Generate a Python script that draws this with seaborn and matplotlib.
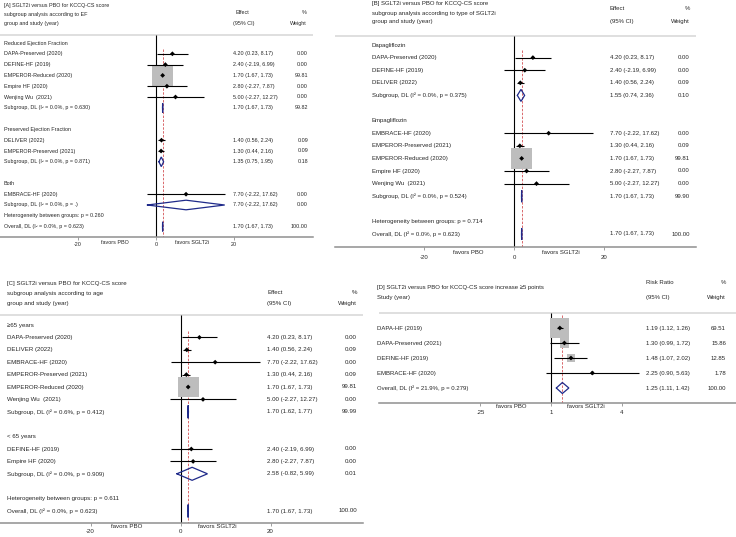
import numpy as np
import pandas as pd
import matplotlib
matplotlib.use("Agg")
import matplotlib.pyplot as plt
import seaborn as sns

nan = np.nan
W, H = 736, 537

# ========================
# [A] subgroups by EF
# ========================
a_title = ["[A] SGLT2i versus PBO for KCCQ-CS score",
           "subgroup analysis according to EF",
           "group and study (year)"]
a_labels = ["Reduced Ejection Fraction",
            "DAPA-Preserved (2020)", "DEFINE-HF (2019)", "EMPEROR-Reduced (2020)",
            "Empire HF (2020)", "Wenjing Wu  (2021)",
            "Subgroup, DL (I² = 0.0%, p = 0.630)",
            "",
            "Preserved Ejection Fraction",
            "DELIVER (2022)", "EMPEROR-Preserved (2021)",
            "Subgroup, DL (I² = 0.0%, p = 0.871)",
            "",
            "Both",
            "EMBRACE-HF (2020)",
            "Subgroup, DL (I² = 0.0%, p = .)",
            "Heterogeneity between groups: p = 0.260",
            "Overall, DL (I² = 0.0%, p = 0.623)"]
a_kind = ["h", "s", "s", "s", "s", "s", "p", "b", "h", "s", "s", "p", "b", "h", "s", "p", "h", "p"]
a_est = [nan, 4.20, 2.40, 1.70, 2.80, 5.00, 1.70, nan, nan, 1.40, 1.30, 1.35, nan, nan, 7.70, 7.70, nan, 1.70]
a_lo = [nan, 0.23, -2.19, 1.67, -2.27, -2.27, 1.67, nan, nan, 0.56, 0.44, 0.75, nan, nan, -2.22, -2.22, nan, 1.67]
a_hi = [nan, 8.17, 6.99, 1.73, 7.87, 12.27, 1.73, nan, nan, 2.24, 2.16, 1.95, nan, nan, 17.62, 17.62, nan, 1.73]
a_wt = [nan, 0.00, 0.00, 99.81, 0.00, 0.00, 99.82, nan, nan, 0.09, 0.09, 0.18, nan, nan, 0.00, 0.00, nan, 100.00]

# ========================
# [B] subgroups by SGLT2i type
# ========================
b_title = ["[B] SGLT2i versus PBO for KCCQ-CS score",
           "subgroup analysis according to type of SGLT2i",
           "group and study (year)"]
b_labels = ["Dapagliflozin",
            "DAPA-Preserved (2020)", "DEFINE-HF (2019)", "DELIVER (2022)",
            "Subgroup, DL (I² = 0.0%, p = 0.375)",
            "",
            "Empagliflozin",
            "EMBRACE-HF (2020)", "EMPEROR-Preserved (2021)", "EMPEROR-Reduced (2020)",
            "Empire HF (2020)", "Wenjing Wu  (2021)",
            "Subgroup, DL (I² = 0.0%, p = 0.524)",
            "",
            "Heterogeneity between groups: p = 0.714",
            "Overall, DL (I² = 0.0%, p = 0.623)"]
b_kind = ["h", "s", "s", "s", "p", "b", "h", "s", "s", "s", "s", "s", "p", "b", "h", "p"]
b_est = [nan, 4.20, 2.40, 1.40, 1.55, nan, nan, 7.70, 1.30, 1.70, 2.80, 5.00, 1.70, nan, nan, 1.70]
b_lo = [nan, 0.23, -2.19, 0.56, 0.74, nan, nan, -2.22, 0.44, 1.67, -2.27, -2.27, 1.67, nan, nan, 1.67]
b_hi = [nan, 8.17, 6.99, 2.24, 2.36, nan, nan, 17.62, 2.16, 1.73, 7.87, 12.27, 1.73, nan, nan, 1.73]
b_wt = [nan, 0.00, 0.00, 0.09, 0.10, nan, nan, 0.00, 0.09, 99.81, 0.00, 0.00, 99.90, nan, nan, 100.00]

# ========================
# [C] subgroups by age
# ========================
c_title = ["[C] SGLT2i versus PBO for KCCQ-CS score",
           "subgroup analysis according to age",
           "group and study (year)"]
c_labels = ["≥65 years",
            "DAPA-Preserved (2020)", "DELIVER (2022)", "EMBRACE-HF (2020)",
            "EMPEROR-Preserved (2021)", "EMPEROR-Reduced (2020)", "Wenjing Wu  (2021)",
            "Subgroup, DL (I² = 0.6%, p = 0.412)",
            "",
            "< 65 years",
            "DEFINE-HF (2019)", "Empire HF (2020)",
            "Subgroup, DL (I² = 0.0%, p = 0.909)",
            "",
            "Heterogeneity between groups: p = 0.611",
            "Overall, DL (I² = 0.0%, p = 0.623)"]
c_kind = ["h", "s", "s", "s", "s", "s", "s", "p", "b", "h", "s", "s", "p", "b", "h", "p"]
c_est = [nan, 4.20, 1.40, 7.70, 1.30, 1.70, 5.00, 1.70, nan, nan, 2.40, 2.80, 2.58, nan, nan, 1.70]
c_lo = [nan, 0.23, 0.56, -2.22, 0.44, 1.67, -2.27, 1.62, nan, nan, -2.19, -2.27, -0.82, nan, nan, 1.67]
c_hi = [nan, 8.17, 2.24, 17.62, 2.16, 1.73, 12.27, 1.77, nan, nan, 6.99, 7.87, 5.99, nan, nan, 1.73]
c_wt = [nan, 0.00, 0.09, 0.00, 0.09, 99.81, 0.00, 99.99, nan, nan, 0.00, 0.00, 0.01, nan, nan, 100.00]

# ========================
# [D] KCCQ-CS increase >=5 points (risk ratio)
# ========================
d_title = ["[D] SGLT2i versus PBO for KCCQ-CS score increase ≥5 points",
           "Study (year)"]
d_labels = ["DAPA-HF (2019)", "DAPA-Preserved (2021)", "DEFINE-HF (2019)",
            "EMBRACE-HF (2020)", "Overall, DL (I² = 21.9%, p = 0.279)"]
d_kind = ["s", "s", "s", "s", "p"]
d_est = [1.19, 1.30, 1.48, 2.25, 1.25]
d_lo = [1.12, 0.99, 1.07, 0.90, 1.11]
d_hi = [1.26, 1.72, 2.02, 5.63, 1.42]
d_wt = [69.51, 15.86, 12.85, 1.78, 100.00]

lin_ticks = [-20, 0, 20]
lin_ticklabels = ["-20", "0", "20"]
log_ticks = [0.25, 1, 4]
log_ticklabels = [".25", "1", "4"]

# ========================
# styling
# ========================
sns.set_theme(style="white")
plt.rcParams["font.family"] = ["Liberation Sans", "DejaVu Sans"]

TXT = "#262626"
NAVY = "#1f2a8a"
BOX = "#bdbdbd"

fig = plt.figure(figsize=(W / 100, H / 100), dpi=100)


def ftext(px, py, s, fs, ha="left"):
    fig.text(px / W, 1 - py / H, s, fontsize=fs, ha=ha, va="center", color=TXT)


def draw_panel(rect, x0, scale, y0, row_h, sep_y, labels, kind, est, lo, hi, wt,
               ticks, ticklabels, fs, cols, box100, dia_h, red_start, tick_pad,
               ref=0.0, log=False):
    left, top, right, bottom = rect
    ax = fig.add_axes([left / W, 1 - bottom / H, (right - left) / W, (bottom - top) / H])
    if log:
        ax.set_xscale("log", base=2)
        ax.set_xlim(2 ** ((left - x0) / scale), 2 ** ((right - x0) / scale))
        ax.xaxis.set_minor_locator(matplotlib.ticker.NullLocator())
    else:
        ax.set_xlim((left - x0) / scale, (right - x0) / scale)

    def to_row(py):
        return (py - y0) / row_h

    bot_row = to_row(bottom)
    ax.set_ylim(bot_row, to_row(top))

    df = pd.DataFrame({"row": np.arange(len(labels)), "label": labels, "kind": kind,
                       "est": est, "lo": lo, "hi": hi, "wt": wt})
    st = df[df.kind == "s"]
    pl = df[df.kind == "p"]

    # separator, reference line, overall line
    ax.axhline(to_row(sep_y), color="#d6d6d6", lw=1.1, zorder=0)
    ax.vlines(ref, to_row(sep_y), bot_row, color="black", lw=0.8, zorder=1)
    overall = pl.est.iloc[-1]
    ax.vlines(overall, red_start, bot_row, color="#d9686b", lw=0.7,
              linestyles=(0, (2.5, 1.5)), zorder=1)

    # weight boxes (area ~ weight)
    smax = (box100 * 0.72) ** 2
    sns.scatterplot(data=st, x="est", y="row", size="wt", sizes=(0, smax),
                    size_norm=(0, 100), marker="s", color=BOX, edgecolor="none",
                    legend=False, ax=ax, zorder=2)
    # CIs and point estimates
    ax.hlines(st.row, st.lo, st.hi, color="black", lw=0.8, zorder=3)
    sns.scatterplot(data=st, x="est", y="row", marker="D", s=6, color="black",
                    edgecolor="none", legend=False, ax=ax, zorder=4)

    # pooled diamonds
    h = dia_h / row_h
    for _, r in pl.iterrows():
        ax.plot([r.lo, r.est, r.hi, r.est, r.lo],
                [r.row, r.row - h, r.row, r.row + h, r.row],
                color=NAVY, lw=0.9, zorder=5, solid_joinstyle="miter")

    # text columns
    lab_x, eff_x, wt_x = [(c - left) / (right - left) for c in cols]
    tr = ax.get_yaxis_transform()
    for _, r in df.iterrows():
        if r.kind == "b":
            continue
        ax.text(lab_x, r.row, r.label, transform=tr, fontsize=fs, va="center",
                ha="left", color=TXT, clip_on=False)
        if r.kind in ("s", "p"):
            ax.text(eff_x, r.row, f"{r.est:.2f} ({r.lo:.2f}, {r.hi:.2f})", transform=tr,
                    fontsize=fs, va="center", ha="left", color=TXT, clip_on=False)
            ax.text(wt_x, r.row, f"{r.wt:.2f}", transform=tr, fontsize=fs,
                    va="center", ha="right", color=TXT, clip_on=False)

    for s in ("left", "top", "right"):
        ax.spines[s].set_visible(False)
    ax.spines["bottom"].set_color("#8f8f8f")
    ax.spines["bottom"].set_linewidth(1.1)
    ax.set_yticks([])
    ax.set_xticks(ticks)
    ax.set_xticklabels(ticklabels)
    ax.tick_params(axis="x", length=2.5, width=0.6, color="#8f8f8f", labelsize=fs,
                   labelcolor=TXT, pad=tick_pad, bottom=True)
    ax.set_xlabel("")
    ax.set_ylabel("")
    ax.patch.set_alpha(0)
    return ax


# ---- A
draw_panel((0, 0, 313, 237), 156, 3.9, 43, 10.8, 35,
           a_labels, a_kind, a_est, a_lo, a_hi, a_wt,
           lin_ticks, lin_ticklabels, 3.9, (4, 233, 308), 21, 4.8, 0.6, 1.2)
for yy, s in zip([5, 14.5, 23.5], a_title):
    ftext(4, yy, s, 3.9)
ftext(235, 12, "Effect", 3.9)
ftext(233, 23.5, "(95% CI)", 3.9)
ftext(307, 12, "%", 3.9, "right")
ftext(307, 23.5, "Weight", 3.9, "right")
ftext(115, 242, "favors PBO", 3.9, "center")
ftext(192, 242, "favors SGLT2i", 3.9, "center")

# ---- B
draw_panel((335, 0, 696, 247), 514, 4.5, 45, 12.6, 36,
           b_labels, b_kind, b_est, b_lo, b_hi, b_wt,
           lin_ticks, lin_ticklabels, 4.3, (372, 610, 690), 21, 6, 0.4, 3.0)
for yy, s in zip([4, 13, 22], b_title):
    ftext(372, yy, s, 4.3)
ftext(610, 8, "Effect", 4.3)
ftext(610, 21, "(95% CI)", 4.3)
ftext(690, 8, "%", 4.3, "right")
ftext(690, 21, "Weight", 4.3, "right")
ftext(468, 252, "favors PBO", 4.3, "center")
ftext(561, 252, "favors SGLT2i", 4.3, "center")

# ---- C
draw_panel((0, 270, 363, 523), 180.5, 4.5, 325, 12.4, 315,
           c_labels, c_kind, c_est, c_lo, c_hi, c_wt,
           lin_ticks, lin_ticklabels, 4.4, (7, 267, 357), 21, 6.5, 0.5, 2.0)
for yy, s in zip([283, 294, 304], c_title):
    ftext(7, yy, s, 4.4)
ftext(267, 292, "Effect", 4.4)
ftext(267, 304, "(95% CI)", 4.4)
ftext(357, 292, "%", 4.4, "right")
ftext(357, 304, "Weight", 4.4, "right")
ftext(127, 526, "favors PBO", 4.4, "center")
ftext(217, 526, "favors SGLT2i", 4.4, "center")

# ---- D
draw_panel((379, 275, 736, 403), 551, 35.3, 328, 15, 313,
           d_labels, d_kind, d_est, d_lo, d_hi, d_wt,
           log_ticks, log_ticklabels, 4.3, (377, 646, 726), 22.8, 5.5, -0.9, 2.5,
           ref=1.0, log=True)
for yy, s in zip([288, 298], d_title):
    ftext(377, yy, s, 4.3)
ftext(646, 283, "Risk Ratio", 4.3)
ftext(646, 298, "(95% CI)", 4.3)
ftext(726, 283, "%", 4.3, "right")
ftext(726, 298, "Weight", 4.3, "right")
ftext(511, 407, "favors PBO", 4.3, "center")
ftext(586, 407, "favors SGLT2i", 4.3, "center")

fig.savefig("out.png", dpi=100)
plt.close(fig)
